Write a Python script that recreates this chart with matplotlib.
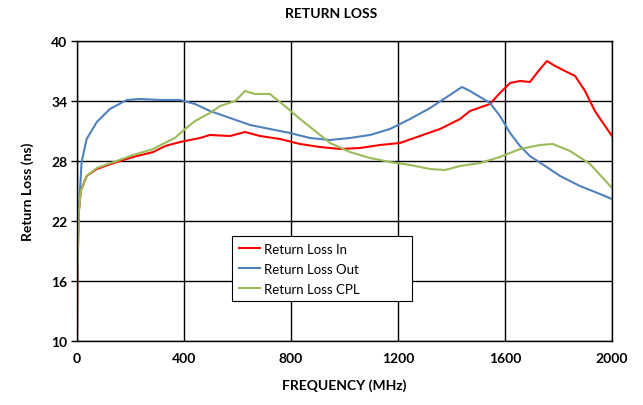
#!/usr/bin/env python3
# -*- coding: utf-8 -*-
"""
Return loss plot (In / Out / CPL) vs frequency.
"""

# %% Import
import numpy as np
import matplotlib as mpl
from matplotlib import pyplot as plt

mpl.use('Agg')
plt.rcParams['font.family'] = ['Lato', 'DejaVu Sans']

# %% Data
freq_in = [0, 1, 6, 14, 36, 74, 148, 210, 285, 330, 385, 460, 497, 572,
           628, 684, 759, 834, 908, 983, 1058, 1133, 1207, 1282, 1357, 1432,
           1469, 1544, 1581, 1619, 1656, 1693, 1731, 1757, 1787, 1824,
           1862, 1899, 1936, 1974, 2000]
rl_in = [10.0, 15.0, 22.7, 25.0, 26.5, 27.2, 27.9, 28.4, 28.9, 29.5, 29.9,
         30.3, 30.6, 30.5, 30.9, 30.5, 30.2, 29.7, 29.4, 29.2, 29.3, 29.6,
         29.8, 30.5, 31.2, 32.2, 33.0, 33.7, 34.8, 35.8, 36.0, 35.9, 37.2,
         38.0, 37.5, 37.0, 36.5, 35.0, 33.0, 31.5, 30.5]

freq_out = [0, 5, 17, 36, 74, 123, 186, 236, 310, 385, 441, 497, 572,
            647, 721, 796, 871, 946, 1020, 1095, 1170, 1245, 1320, 1394,
            1439, 1469, 1544, 1581, 1619, 1656, 1693, 1750, 1806, 1880,
            1955, 2000]
rl_out = [16.0, 22.2, 27.9, 30.2, 31.9, 33.2, 34.1, 34.2, 34.1, 34.1, 33.7,
          33.0, 32.3, 31.6, 31.2, 30.8, 30.3, 30.1, 30.3, 30.6, 31.2, 32.2,
          33.3, 34.6, 35.4, 35.0, 33.8, 32.5, 30.8, 29.5, 28.5, 27.5, 26.5,
          25.5, 24.7, 24.2]

freq_cpl = [0, 6, 14, 36, 74, 148, 210, 285, 320, 366, 404, 441, 497, 535,
            591, 628, 665, 721, 777, 834, 890, 946, 1020, 1095, 1170, 1245,
            1320, 1376, 1432, 1507, 1581, 1656, 1731, 1779, 1843, 1918, 2000]
rl_cpl = [15.0, 22.7, 25.0, 26.5, 27.3, 28.0, 28.6, 29.2, 29.7, 30.3, 31.2,
          32.0, 32.8, 33.5, 34.0, 35.0, 34.7, 34.7, 33.5, 32.2, 31.0, 29.8,
          28.9, 28.3, 27.9, 27.6, 27.2, 27.1, 27.5, 27.8, 28.4, 29.2, 29.6,
          29.7, 29.0, 27.7, 25.3]

x_ticks = [0, 400, 800, 1200, 1600, 2000]
y_ticks = [10, 16, 22, 28, 34, 40]

# %% Plot
fig = plt.figure(figsize=(6.43, 4.06), dpi=100)
ax = fig.add_axes([0.1198, 0.1576, 0.832, 0.739])

ax.plot(freq_in, rl_in, color='#FF0000', lw=1.5, label='Return Loss In')
ax.plot(freq_out, rl_out, color='#4F81BD', lw=1.5, label='Return Loss Out')
ax.plot(freq_cpl, rl_cpl, color='#9BBB59', lw=1.5, label='Return Loss CPL')

ax.set_xlim(0, 2000)
ax.set_ylim(10, 40)
ax.set_xticks(x_ticks)
ax.set_yticks(y_ticks)
ax.grid(visible=True, color='black', lw=1)
for s in ax.spines.values():
    s.set_linewidth(1)
ax.tick_params(axis='x', length=0, pad=8, labelsize=10)
ax.tick_params(axis='y', length=4, width=1, pad=3, labelsize=10)
for lab in ax.get_xticklabels() + ax.get_yticklabels():
    lab.set_fontweight('bold')

ax.set_xlabel('FREQUENCY (MHz)', fontweight='bold', fontsize=10, labelpad=10)
ax.set_ylabel('Return Loss (ns)', fontweight='bold', fontsize=10, labelpad=12)
fig.text(0.515, 0.965, 'RETURN LOSS', ha='center', va='center',
         fontweight='bold', fontsize=10)

leg = ax.legend(loc='lower left', bbox_to_anchor=(0.29, 0.133, 0.336, 0.223),
                mode='expand', fancybox=False, edgecolor='black',
                framealpha=1, fontsize=9.5, handlelength=1.6,
                handletextpad=0.3, borderaxespad=0, labelspacing=0.6,
                borderpad=0.5)
leg.get_frame().set_linewidth(0.8)

plt.savefig('out.png', dpi=100)
plt.close()
